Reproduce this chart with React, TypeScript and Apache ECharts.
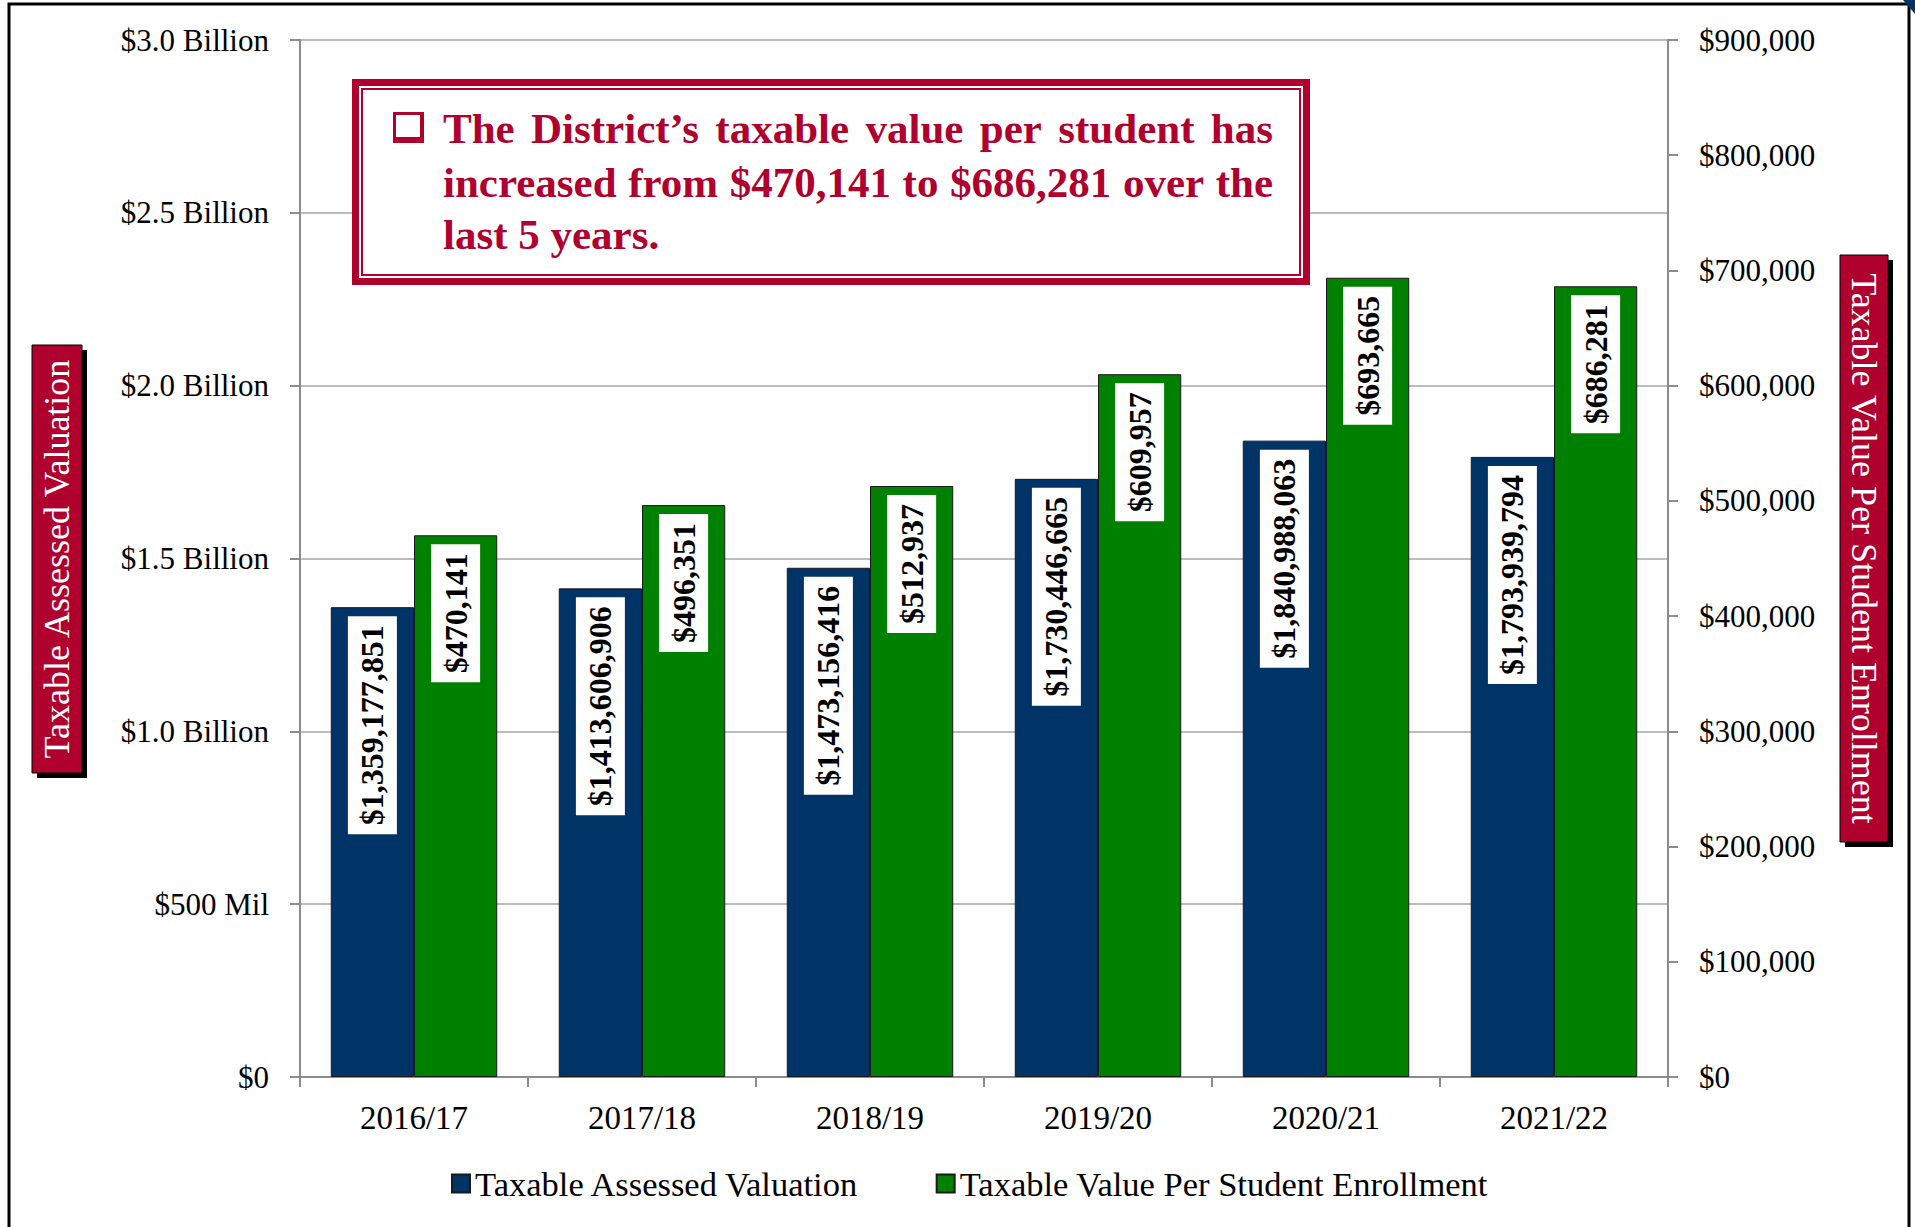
import React, { useEffect, useRef } from "react";
import * as echarts from "echarts";

const categories = ["2016/17", "2017/18", "2018/19", "2019/20", "2020/21", "2021/22"];
const assessedValuation = [1359177851, 1413606906, 1473156416, 1730446665, 1840988063, 1793939794];
const valuePerStudent = [470141, 496351, 512937, 609957, 693665, 686281];
const leftTickLabels = ["$0", "$500 Mil", "$1.0 Billion", "$1.5 Billion", "$2.0 Billion", "$2.5 Billion", "$3.0 Billion"];
const seriesNames = ["Taxable Assessed Valuation", "Taxable Value Per Student Enrollment"];
const leftAxisTitle = "Taxable Assessed Valuation";
const rightAxisTitle = "Taxable Value Per Student Enrollment";
const noteLines = [
  "The District\u2019s taxable value per student has",
  "increased from $470,141 to $686,281 over the",
  "last 5 years.",
];

const CRIMSON = "#B0002E";
const BLUE = "#003366";
const GREEN = "#008000";
const SERIF = "'Liberation Serif', 'Times New Roman', serif";

function money(v: number) {
  return "$" + Math.round(v).toLocaleString("en-US");
}

function buildNote(): any[] {
  const els: any[] = [];
  const fontSize = 43;
  const canvas = document.createElement("canvas");
  const ctx = canvas.getContext("2d")!;
  ctx.font = `bold ${fontSize}px ${SERIF}`;
  const x0 = 443;
  const x1 = 1273;
  const ys = [128.5, 182.5, 234];
  noteLines.forEach((line, li) => {
    const words = line.split(" ");
    const justify = li < noteLines.length - 1;
    if (!justify) {
      els.push({
        type: "text", z: 110, x: x0, y: ys[li],
        style: { text: line, fill: CRIMSON, font: `bold ${fontSize}px ${SERIF}`, align: "left", verticalAlign: "middle" },
      });
      return;
    }
    const widths = words.map((w) => ctx.measureText(w).width);
    const total = widths.reduce((a, b) => a + b, 0);
    const gap = (x1 - x0 - total) / (words.length - 1);
    let x = x0;
    words.forEach((w, i) => {
      els.push({
        type: "text", z: 110, x, y: ys[li],
        style: { text: w, fill: CRIMSON, font: `bold ${fontSize}px ${SERIF}`, align: "left", verticalAlign: "middle" },
      });
      x += widths[i] + gap;
    });
  });
  return els;
}

export default function App() {
  const ref = useRef<HTMLDivElement>(null);
  useEffect(() => {
    document.body.style.margin = "0";
    const chart = echarts.init(ref.current!, null, { renderer: "svg" });
    const labelCommon = {
      show: true,
      position: "insideTop",
      distance: 9,
      rotate: 90,
      align: "right",
      verticalAlign: "middle",
      color: "#000",
      fontFamily: SERIF,
      fontWeight: "bold",
      fontSize: 32,
      lineHeight: 41,
      backgroundColor: "#fff",
      padding: [4, 9],
      formatter: (p: any) => money(p.value),
    };
    const option: any = {
      animation: false,
      backgroundColor: "#fff",
      textStyle: { fontFamily: SERIF },
      grid: { left: 300, right: 247, top: 40, bottom: 150, containLabel: false },
      legend: {
        show: true,
        left: 451,
        top: 1166,
        padding: 0,
        itemGap: 76,
        itemWidth: 18,
        itemHeight: 18,
        icon: "rect",
        textStyle: { fontFamily: SERIF, fontSize: 34.5, color: "#000" },
        data: seriesNames,
      },
      xAxis: {
        type: "category",
        data: categories,
        boundaryGap: true,
        axisLine: { show: true, lineStyle: { color: "#8c8c8c", width: 2 } },
        axisTick: { show: true, alignWithLabel: false, length: 10, lineStyle: { color: "#8c8c8c", width: 2 } },
        axisLabel: { color: "#000", fontFamily: SERIF, fontSize: 33, margin: 24 },
      },
      yAxis: [
        {
          type: "value",
          min: 0,
          max: 3000000000,
          interval: 500000000,
          position: "left",
          axisLine: { show: true, lineStyle: { color: "#8c8c8c", width: 2 } },
          axisTick: { show: true, length: 10, lineStyle: { color: "#8c8c8c", width: 2 } },
          splitLine: { show: true, lineStyle: { color: "#a6a6a6", width: 1.5 } },
          axisLabel: {
            color: "#000",
            fontFamily: SERIF,
            fontSize: 31,
            margin: 31,
            formatter: (v: number) => leftTickLabels[Math.round(v / 500000000)] ?? "",
          },
        },
        {
          type: "value",
          min: 0,
          max: 900000,
          interval: 100000,
          position: "right",
          axisLine: { show: true, lineStyle: { color: "#8c8c8c", width: 2 } },
          axisTick: { show: true, length: 10, lineStyle: { color: "#8c8c8c", width: 2 } },
          splitLine: { show: false },
          axisLabel: {
            color: "#000",
            fontFamily: SERIF,
            fontSize: 31,
            margin: 31,
            formatter: (v: number) => money(v),
          },
        },
      ],
      series: [
        {
          name: seriesNames[0],
          type: "bar",
          yAxisIndex: 0,
          data: assessedValuation,
          barGap: "0%",
          barCategoryGap: "27%",
          itemStyle: { color: BLUE, borderColor: "#1a1a1a", borderWidth: 1 },
          label: labelCommon,
        },
        {
          name: seriesNames[1],
          type: "bar",
          yAxisIndex: 1,
          data: valuePerStudent,
          barGap: "0%",
          barCategoryGap: "27%",
          itemStyle: { color: GREEN, borderColor: "#1a1a1a", borderWidth: 1 },
          label: labelCommon,
        },
      ],
      graphic: [
        // outer frame
        { type: "rect", z: 120, shape: { x: 9, y: 4, width: 1900, height: 1260 }, style: { fill: "none", stroke: "#000", lineWidth: 3 } },
        { type: "polygon", z: 121, shape: { points: [[1903, 0], [1915, 0], [1915, 14]] }, style: { fill: BLUE } },
        // annotation box
        { type: "rect", z: 100, shape: { x: 352, y: 79, width: 958, height: 206 }, style: { fill: CRIMSON } },
        { type: "rect", z: 101, shape: { x: 359, y: 86, width: 944, height: 192 }, style: { fill: "#fff" } },
        { type: "rect", z: 102, shape: { x: 362, y: 89, width: 938, height: 186 }, style: { fill: "none", stroke: CRIMSON, lineWidth: 2 } },
        // bullet
        { type: "rect", z: 103, shape: { x: 393, y: 112, width: 31, height: 31 }, style: { fill: CRIMSON } },
        { type: "rect", z: 104, shape: { x: 396, y: 115, width: 24, height: 22 }, style: { fill: "#fff" } },
        ...buildNote(),
        // left axis title box
        { type: "rect", z: 100, shape: { x: 37, y: 350, width: 50, height: 428 }, style: { fill: "#000" } },
        { type: "rect", z: 101, shape: { x: 32, y: 345, width: 50, height: 428 }, style: { fill: CRIMSON, stroke: "#000", lineWidth: 1 } },
        {
          type: "text", z: 102, x: 57, y: 559, rotation: Math.PI / 2,
          style: { text: leftAxisTitle, fill: "#fff", font: `36px ${SERIF}`, align: "center", verticalAlign: "middle" },
        },
        // right axis title box
        { type: "rect", z: 100, shape: { x: 1845, y: 260, width: 48, height: 587 }, style: { fill: "#000" } },
        { type: "rect", z: 101, shape: { x: 1840, y: 255, width: 48, height: 587 }, style: { fill: CRIMSON, stroke: "#000", lineWidth: 1 } },
        {
          type: "text", z: 102, x: 1864, y: 548.5, rotation: -Math.PI / 2,
          style: { text: rightAxisTitle, fill: "#fff", font: `36px ${SERIF}`, align: "center", verticalAlign: "middle" },
        },
      ],
    };
    chart.setOption(option);
    return () => chart.dispose();
  }, []);
  return <div ref={ref} style={{ position: "absolute", left: 0, top: 0, width: 1915, height: 1227 }} />;
}
